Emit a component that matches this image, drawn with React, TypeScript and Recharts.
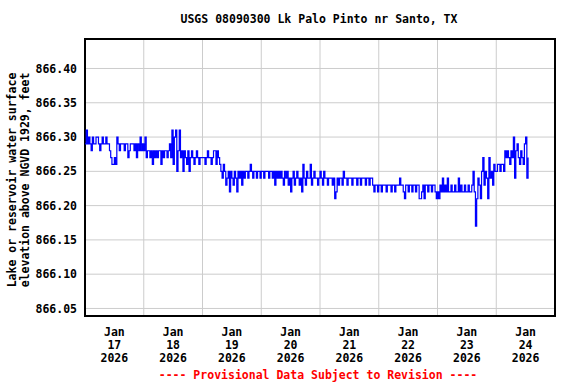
import React from 'react'
import {
  LineChart, Line, XAxis, YAxis, CartesianGrid, ReferenceArea
} from 'recharts'

// half-hourly gage height, hundredths of a foot above 866.00
const jan17 = [
  29, 31, 29, 30, 29, 28, 30, 29, 29, 30,
  30, 29, 28, 29, 30, 29, 29, 30, 29, 29,
  28, 27, 26, 26, 27, 26, 30, 29, 28, 29,
  29, 29, 28, 29, 29, 27, 28, 29, 29, 29,
  28, 29, 27, 29, 28, 30, 28, 29,
]
const jan18 = [
  28, 30, 27, 28, 28, 27, 28, 26, 28, 27,
  28, 27, 28, 28, 26, 28, 27, 28, 28, 27,
  28, 29, 27, 31, 26, 30, 31, 25, 28, 31,
  27, 28, 25, 28, 27, 26, 28, 25, 27, 28,
  27, 26, 27, 28, 27, 26, 27, 27,
]
const jan19 = [
  27, 27, 26, 27, 28, 27, 27, 26, 27, 28,
  28, 26, 28, 27, 26, 25, 24, 26, 25, 23,
  24, 25, 22, 25, 24, 23, 25, 24, 22, 25,
  24, 25, 23, 25, 24, 25, 25, 24, 25, 26,
  25, 24, 25, 25, 24, 25, 25, 24,
]
const jan20 = [
  25, 25, 24, 25, 25, 25, 24, 25, 25, 24,
  25, 23, 25, 24, 25, 24, 25, 24, 23, 25,
  24, 25, 23, 24, 22, 24, 25, 23, 24, 25,
  24, 23, 24, 22, 26, 24, 23, 25, 24, 24,
  26, 23, 24, 25, 24, 24, 23, 24,
]
const jan21 = [
  25, 24, 23, 25, 24, 24, 23, 24, 24, 24,
  23, 24, 21, 22, 24, 23, 24, 24, 23, 25,
  24, 24, 23, 24, 24, 24, 23, 24, 24, 24,
  23, 24, 24, 23, 24, 24, 24, 23, 24, 24,
  23, 24, 24, 23, 22, 23, 23, 22,
]
const jan22 = [
  23, 23, 22, 23, 23, 23, 22, 23, 23, 23,
  22, 23, 23, 22, 23, 23, 23, 24, 23, 23,
  22, 21, 23, 23, 22, 23, 23, 22, 23, 23,
  22, 23, 23, 21, 21, 22, 23, 21, 23, 23,
  22, 23, 23, 22, 23, 23, 22, 21,
]
const jan23 = [
  22, 21, 23, 22, 24, 22, 23, 22, 24, 22,
  22, 23, 22, 22, 23, 22, 22, 24, 22, 23,
  22, 22, 23, 22, 22, 23, 22, 22, 23, 25,
  22, 17, 21, 24, 23, 21, 25, 27, 23, 25,
  24, 21, 27, 24, 25, 23, 26, 25,
]
const jan24 = [
  25, 26, 26, 25, 26, 26, 25, 28, 27, 28,
  27, 26, 28, 27, 30, 24, 28, 29, 27, 26,
  28, 27, 26, 29, 30, 24, 27,
]
const days = [jan17, jan18, jan19, jan20, jan21, jan22, jan23, jan24]

const dayNumbers = ['17', '18', '19', '20', '21', '22', '23', '24']
const monthLabel = 'Jan'
const yearLabel = '2026'
const yTicks = [866.05, 866.1, 866.15, 866.2, 866.25, 866.3, 866.35, 866.4]
const yDomain = [866.039, 866.443]
const labelTicks = [12, 36, 60, 84, 108, 132, 156, 180]   // noon of each day
const gridTicks = [24, 48, 72, 96, 120, 144, 168]        // midnights

const data = days.flatMap((vals, d) =>
  vals.map((h, i) => ({ t: d * 24 + i * 0.5, v: 866 + h / 100 }))
)

const font = '"DejaVu Sans Mono", monospace'

function DateTick({ x, y, index }: any) {
  return (
    <text x={x} y={y} textAnchor="middle" fontFamily={font} fontWeight="bold" fontSize={11.5} fill="#000">
      <tspan x={x} dy={12}>{monthLabel}</tspan>
      <tspan x={x} dy={13}>{dayNumbers[index]}</tspan>
      <tspan x={x} dy={13}>{yearLabel}</tspan>
    </text>
  )
}

export default function App() {
  return (
    <div style={{ position: 'absolute', left: 0, top: 0, width: 576, height: 384, background: '#fff' }}>
      <LineChart width={576} height={384} data={data}
        margin={{ top: 39, right: 21, bottom: 8, left: 0 }}>
        <XAxis xAxisId="grid" dataKey="t" type="number" domain={[0, 192]} ticks={gridTicks} hide />
        <CartesianGrid xAxisId="grid" stroke="#cccccc" strokeWidth={1} />
        <XAxis dataKey="t" type="number" domain={[0, 192]} ticks={labelTicks} height={60}
          tickLine={false} axisLine={false} interval={0} tick={<DateTick />} />
        <YAxis type="number" domain={yDomain} allowDataOverflow ticks={yTicks} width={85}
          tickFormatter={(v: number) => v.toFixed(2)} tickLine={false} axisLine={false}
          tick={{ fill: '#000', fontSize: 11.5, fontFamily: font, fontWeight: 'bold' }} />
        <Line type="stepAfter" dataKey="v" stroke="#0000ff" strokeWidth={1.2} dot={false} isAnimationActive={false} />
        <ReferenceArea x1={0} x2={192} y1={yDomain[0]} y2={yDomain[1]} fill="none" stroke="#000" strokeWidth={2} ifOverflow="visible" />
      </LineChart>
      <svg width={576} height={384} style={{ position: 'absolute', left: 0, top: 0, pointerEvents: 'none' }}
        fontFamily={font} fontWeight="bold" fontSize={11.5}>
        <text x={319} y={23} textAnchor="middle" fill="#000">USGS 08090300 Lk Palo Pinto nr Santo, TX</text>
        <text transform="translate(16,180) rotate(-90)" textAnchor="middle" fill="#000">Lake or reservoir water surface</text>
        <text transform="translate(29,180) rotate(-90)" textAnchor="middle" fill="#000">elevation above NGVD 1929, feet</text>
        <text x={318} y={379} textAnchor="middle" fill="#ff0000">---- Provisional Data Subject to Revision ----</text>
      </svg>
    </div>
  )
}
